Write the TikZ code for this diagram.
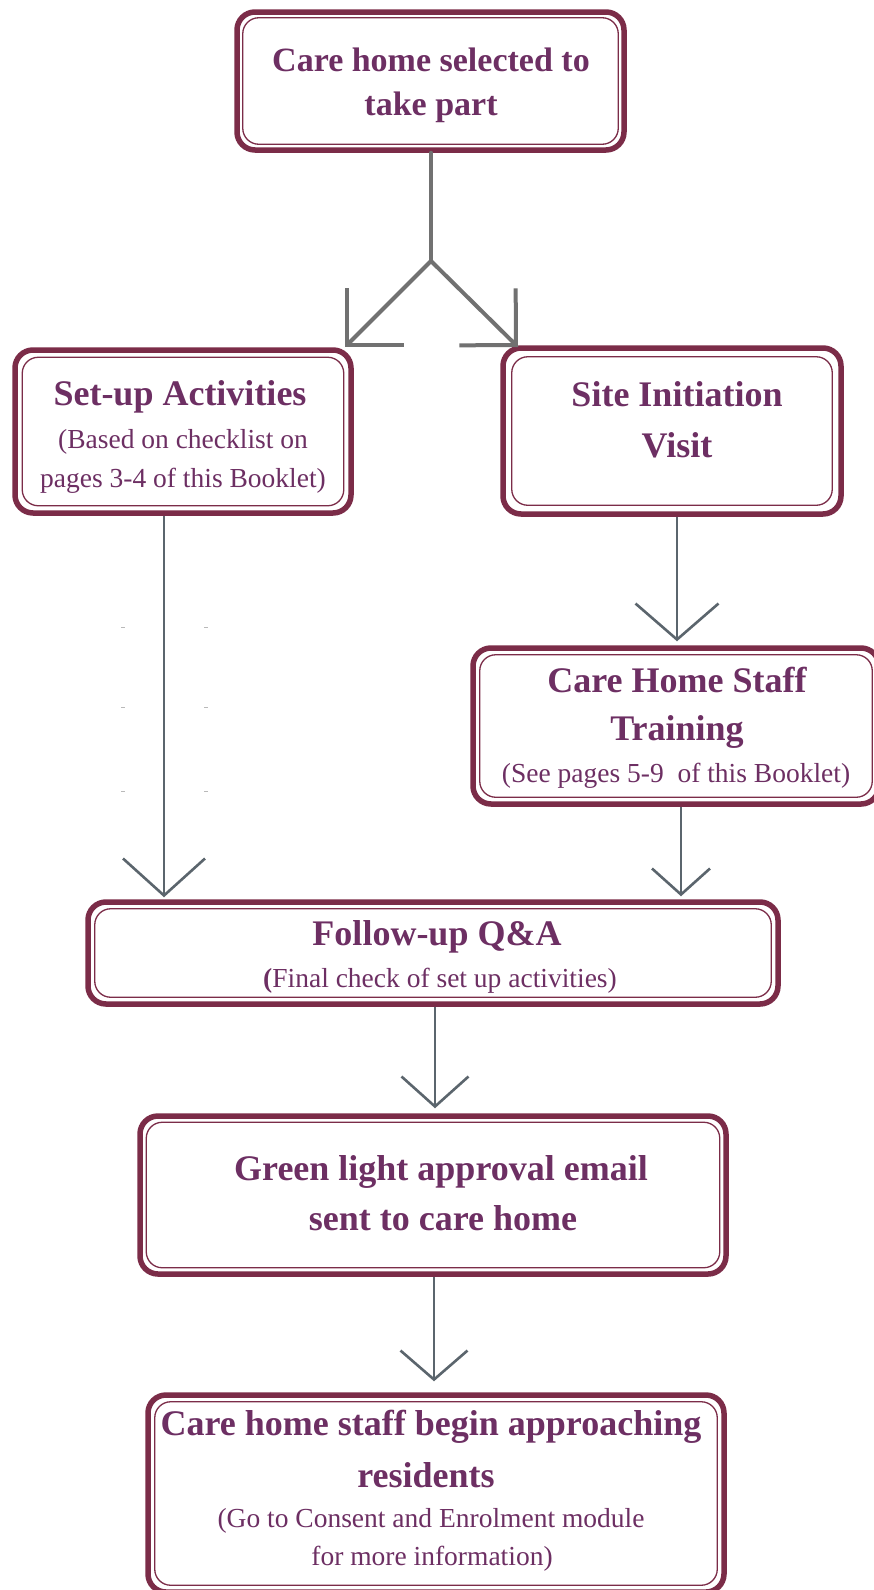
\documentclass[tikz,border=0pt]{standalone}
\usepackage{fontspec}
\setmainfont{Liberation Serif}
\usetikzlibrary{arrows.meta}
\definecolor{boxc}{HTML}{7B2C48}
\definecolor{txtc}{HTML}{6D2F63}
\definecolor{arrA}{HTML}{717171}
\definecolor{arrB}{HTML}{5B656D}
\begin{document}
\begin{tikzpicture}[x=1pt,y=-1pt,
  outerbox/.style={draw=boxc,line width=5.5pt,rounded corners=18pt,rectangle,inner sep=0pt},
  innerbox/.style={draw=boxc,line width=1.3pt,rounded corners=16pt},
  ttl/.style={anchor=base,text=txtc,font=\fontsize{36}{42}\selectfont\bfseries,inner sep=0pt},
  ttlsm/.style={ttl,font=\fontsize{34}{40}\selectfont\bfseries},
  sub/.style={anchor=base,text=txtc,font=\fontsize{27.5}{32}\selectfont,inner sep=0pt},
  arrsplit/.style={draw=arrA,line width=4pt,line cap=round},
  arrdark/.style={draw=arrB,line width=2.6pt},
  speck/.style={draw=gray!55,line width=0.8pt}
]
\useasboundingbox[fill=white] (0,0) rectangle (874,1590);

% boxes
\node[outerbox,minimum width=387pt,minimum height=138pt] (top) at (430.5,81) {};
\node[outerbox,minimum width=336pt,minimum height=163pt] (setup) at (183,431.5) {};
\node[outerbox,minimum width=338pt,minimum height=166pt] (site) at (672,431) {};
\node[outerbox,minimum width=406pt,minimum height=156pt] (train) at (676,726) {};
\node[outerbox,minimum width=690pt,minimum height=102pt] (follow) at (433,953) {};
\node[outerbox,minimum width=586pt,minimum height=158pt] (green) at (433,1195) {};
\node[outerbox,minimum width=576pt,minimum height=197pt] (last) at (436,1493.5) {};

\foreach \n/\d in {top/8.5,setup/10,site/11.5,train/9.5,follow/9.5,green/9,last/9.5}
  \draw[innerbox] ([shift={(\d,\d)}]\n.north west) rectangle ([shift={(-\d,-\d)}]\n.south east);

% texts
\node[ttlsm] (t1a) at (431,71) {Care home selected to};
\node[ttlsm] (t1b) at (431,115) {take part};
\node[ttl] (t2a) at (180,405) {Set-up Activities};
\node[sub] (t2b) at (183,448) {(Based on checklist on};
\node[sub] (t2c) at (183,487) {pages 3-4 of this Booklet)};
\node[ttl] (t3a) at (677,406) {Site Initiation};
\node[ttl] (t3b) at (677,457) {Visit};
\node[ttl] (t4a) at (677,692) {Care Home Staff};
\node[ttl] (t4b) at (677,740) {Training};
\node[sub] (t4c) at (676,782) {(See pages 5-9\ \ of this Booklet)};
\node[ttl] (t5a) at (437,945) {Follow-up Q\&A};
\node[sub] (t5b) at (440,987) {{\bfseries(}Final check of set up activities)};
\node[ttl] (t6a) at (441,1180) {Green light approval email};
\node[ttl] (t6b) at (443,1230) {sent to care home};
\node[ttl] (t7a) at (431,1435) {Care home staff begin approaching};
\node[ttl] (t7b) at (426,1487) {residents};
\node[sub] (t7c) at (431,1527) {(Go to Consent and Enrolment module};
\node[sub] (t7d) at (432,1565) {for more information)};

% connectors
\coordinate (split) at (431,261);
\coordinate (tipL) at (345,347);
\coordinate (tipR) at (518,347);
\draw[arrsplit] (top.south -| split) -- (split);
\draw[arrsplit,-{Straight Barb[length=40pt,width=80pt]}] (split) -- (tipL);
\draw[arrsplit,-{Straight Barb[length=40pt,width=80pt]}] (split) -- (tipR);

\coordinate (xl) at (164,0);
\coordinate (xs) at (677,0);
\coordinate (xt) at (681,0);
\coordinate (xf) at (435,0);
\coordinate (xg) at (434,0);
\draw[arrdark,shorten >=2pt,-{Straight Barb[length=37pt,width=82pt]}] (setup.south -| xl) -- (follow.north -| xl);
\draw[arrdark,shorten >=4pt,-{Straight Barb[length=36pt,width=83pt]}] (site.south -| xs) -- (train.north -| xs);
\draw[arrdark,shorten >=3pt,-{Straight Barb[length=26pt,width=58pt]}] (train.south -| xt) -- (follow.north -| xt);
\draw[arrdark,shorten >=5pt,-{Straight Barb[length=30pt,width=67pt]}] (follow.south -| xf) -- (green.north -| xf);
\draw[arrdark,shorten >=11pt,-{Straight Barb[length=29pt,width=67pt]}] (green.south -| xg) -- (last.north -| xg);

% faint specks beside the long arrow
\foreach \yy in {627,707,791} {
  \draw[speck] (121,\yy) -- (125,\yy);
  \draw[speck] (204,\yy) -- (208,\yy);
}
\end{tikzpicture}
\end{document}
